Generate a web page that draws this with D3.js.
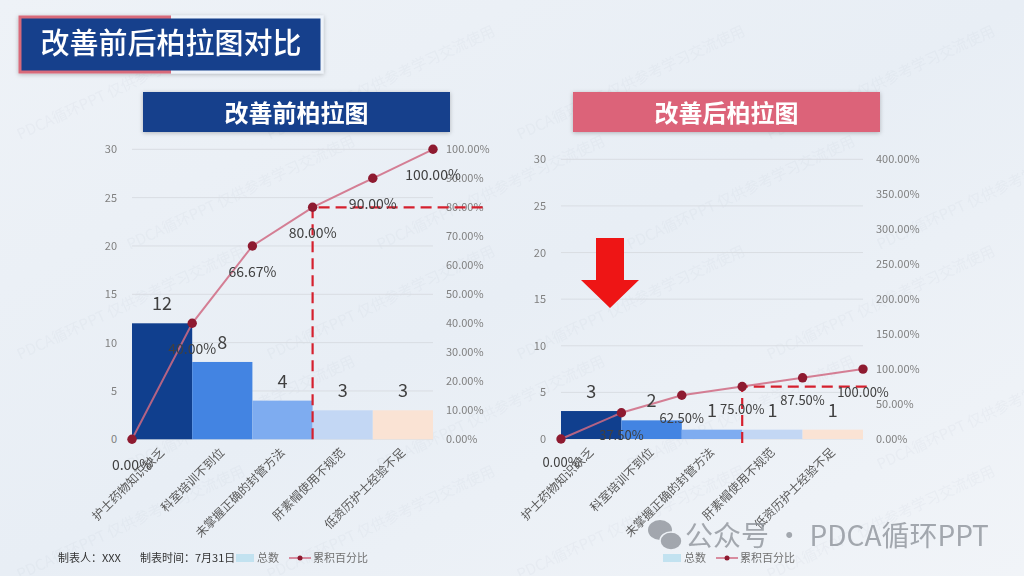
<!DOCTYPE html>
<html>
<head>
<meta charset="utf-8">
<script src="https://cdn.jsdelivr.net/npm/d3@7"></script>
<style>
  html, body { margin: 0; padding: 0; background: #eef2f7; }
  svg { display: block; font-family: "Noto Sans CJK SC", "Noto Sans", sans-serif; }
</style>
</head>
<body>
<div id="chart"></div>
<script>
const categories = ["护士药物知识缺乏", "科室培训不到位", "未掌握正确的封管方法", "肝素帽使用不规范", "低资历护士经验不足"];
const beforeCounts = [12, 8, 4, 3, 3];
const afterCounts = [3, 2, 1, 1, 1];
const beforeCumPct = [0, 40, 66.67, 80, 90, 100];
const afterCumPct = [0, 37.5, 62.5, 75, 87.5, 100];
const countTicks = [0, 5, 10, 15, 20, 25, 30];
const beforePctTicks = [0, 10, 20, 30, 40, 50, 60, 70, 80, 90, 100];
const afterPctTicks = [0, 50, 100, 150, 200, 250, 300, 350, 400];
const beforeCutIndex = 3;
const afterCutIndex = 3;

const barColors = ["#103f8e", "#4384e2", "#7eacf0", "#c3d7f4", "#fae3d4"];

const width = 1024;
const height = 576;

const svg = d3.select("#chart").append("svg")
  .attr("width", width)
  .attr("height", height)
  .attr("viewBox", [0, 0, width, height]);

const defs = svg.append("defs");

const bg = defs.append("linearGradient").attr("id", "bg")
  .attr("x1", "0").attr("y1", "0").attr("x2", "1").attr("y2", "1");
bg.append("stop").attr("offset", "0").attr("stop-color", "#eef2f7");
bg.append("stop").attr("offset", "0.5").attr("stop-color", "#e8eef5");
bg.append("stop").attr("offset", "1").attr("stop-color", "#f1f4f8");

const titleBorder = defs.append("linearGradient").attr("id", "titleBorder")
  .attr("x1", "0").attr("y1", "0").attr("x2", "1").attr("y2", "0");
titleBorder.append("stop").attr("offset", "0").attr("stop-color", "#d86a7a");
titleBorder.append("stop").attr("offset", "0.5").attr("stop-color", "#d86a7a");
titleBorder.append("stop").attr("offset", "0.5").attr("stop-color", "#eef3fa");
titleBorder.append("stop").attr("offset", "1").attr("stop-color", "#eef3fa");

const shadow = defs.append("filter").attr("id", "shadow")
  .attr("x", "-10%").attr("y", "-30%").attr("width", "120%").attr("height", "160%");
shadow.append("feDropShadow")
  .attr("dx", 0).attr("dy", 1).attr("stdDeviation", 2)
  .attr("flood-color", "#000").attr("flood-opacity", 0.25);

svg.append("rect").attr("width", width).attr("height", height).attr("fill", "url(#bg)");

// faint watermark text
const wm = svg.append("g").attr("fill", "#9aa6b8").attr("opacity", 0.07)
  .attr("font-size", 15);
for (let row = 0; row < 5; row++) {
  for (let col = 0; col < 4; col++) {
    const wx = col * 250 + (row % 2) * 110 + 20;
    const wy = row * 110 + 140;
    wm.append("text")
      .attr("transform", `translate(${wx}, ${wy}) rotate(-25)`)
      .text("PDCA循环PPT 仅供参考学习交流使用");
  }
}

// main title
svg.append("rect")
  .attr("x", 20).attr("y", 17).attr("width", 302).attr("height", 55)
  .attr("fill", "#123f8c")
  .attr("stroke", "url(#titleBorder)")
  .attr("stroke-width", 3)
  .attr("filter", "url(#shadow)");
svg.append("text")
  .attr("x", 171).attr("y", 54)
  .attr("text-anchor", "middle")
  .attr("fill", "#ffffff")
  .attr("font-size", 29)
  .attr("font-weight", 500)
  .text("改善前后柏拉图对比");

function drawHeader(x, w, fill, label) {
  svg.append("rect")
    .attr("x", x).attr("y", 92).attr("width", w).attr("height", 40)
    .attr("fill", fill)
    .attr("filter", "url(#shadow)");
  svg.append("text")
    .attr("x", x + w / 2).attr("y", 122)
    .attr("text-anchor", "middle")
    .attr("fill", "#ffffff")
    .attr("font-size", 24)
    .attr("font-weight", "bold")
    .text(label);
}

drawHeader(143, 307, "#123f8c", "改善前柏拉图");
drawHeader(573, 307, "#dc6479", "改善后柏拉图");

function drawPareto(opts) {
  const g = svg.append("g");

  const x = d3.scaleBand()
    .domain(categories)
    .range([opts.x0, opts.x1])
    .padding(0);

  const xEdge = d3.scaleLinear()
    .domain([0, categories.length])
    .range([opts.x0, opts.x1]);

  const y = d3.scaleLinear()
    .domain([0, 30])
    .range([opts.yBase, opts.yTop]);

  const yPct = d3.scaleLinear()
    .domain([0, opts.pctMax])
    .range([opts.yBase, opts.yTop]);

  // gridlines
  g.selectAll("line.grid")
    .data(countTicks)
    .join("line")
    .attr("class", "grid")
    .attr("x1", opts.x0)
    .attr("x2", opts.x1)
    .attr("y1", d => y(d))
    .attr("y2", d => y(d))
    .attr("stroke", "#d9dde3")
    .attr("stroke-width", 1);

  // left axis
  const leftAxis = g.append("g")
    .attr("transform", `translate(${opts.x0 - 15}, 0)`)
    .call(d3.axisLeft(y).tickValues(countTicks).tickSize(0).tickPadding(0));
  leftAxis.select(".domain").remove();
  leftAxis.selectAll("text")
    .attr("fill", "#808080")
    .attr("font-size", 11)
    .attr("font-family", "'Noto Sans CJK SC', sans-serif");

  // right axis
  const rightAxis = g.append("g")
    .attr("transform", `translate(${opts.x1 + 13}, 0)`)
    .call(d3.axisRight(yPct)
      .tickValues(opts.pctTicks)
      .tickSize(0)
      .tickPadding(0)
      .tickFormat(d => d.toFixed(2) + "%"));
  rightAxis.select(".domain").remove();
  rightAxis.selectAll("text")
    .attr("fill", "#808080")
    .attr("font-size", 11)
    .attr("font-family", "'Noto Sans CJK SC', sans-serif");

  // bars
  g.selectAll("rect.bar")
    .data(opts.counts)
    .join("rect")
    .attr("class", "bar")
    .attr("x", (d, i) => x(categories[i]))
    .attr("y", d => y(d))
    .attr("width", x.bandwidth())
    .attr("height", d => opts.yBase - y(d))
    .attr("fill", (d, i) => barColors[i]);

  // cumulative line
  const line = d3.line()
    .x((d, i) => xEdge(i))
    .y(d => yPct(d));

  g.append("path")
    .datum(opts.cumPct)
    .attr("d", line)
    .attr("fill", "none")
    .attr("stroke", "#d06a82")
    .attr("stroke-opacity", 0.85)
    .attr("stroke-width", 2);

  // 80% cut reference lines
  const cx = xEdge(opts.cutIndex);
  const cy = yPct(opts.cumPct[opts.cutIndex]);
  g.append("path")
    .attr("d", `M${cx},${opts.yBase + opts.dashDrop}L${cx},${cy}L${opts.dashEnd},${cy}`)
    .attr("fill", "none")
    .attr("stroke", "#d5202e")
    .attr("stroke-width", 2.2)
    .attr("stroke-dasharray", "11,6");

  // markers
  g.selectAll("circle.pt")
    .data(opts.cumPct)
    .join("circle")
    .attr("class", "pt")
    .attr("cx", (d, i) => xEdge(i))
    .attr("cy", d => yPct(d))
    .attr("r", 4.7)
    .attr("fill", "#8e1a30");

  // bar value labels
  g.selectAll("text.val")
    .data(opts.counts)
    .join("text")
    .attr("class", "val")
    .attr("x", (d, i) => x(categories[i]) + x.bandwidth() / 2)
    .attr("y", d => y(d) - 13)
    .attr("text-anchor", "middle")
    .attr("fill", "#404040")
    .attr("font-size", 18)
    .text(d => d);

  // cumulative labels
  g.selectAll("text.pct")
    .data(opts.cumPct)
    .join("text")
    .attr("class", "pct")
    .attr("x", (d, i) => xEdge(i))
    .attr("y", d => yPct(d) + opts.pctOffset)
    .attr("text-anchor", "middle")
    .attr("fill", "#404040")
    .attr("font-size", opts.pctSize)
    .text(d => d.toFixed(2) + "%");

  // category labels
  g.selectAll("text.cat")
    .data(categories)
    .join("text")
    .attr("class", "cat")
    .attr("transform", d => `translate(${x(d) + x.bandwidth() / 2 + 3}, ${opts.yBase + 14}) rotate(-45)`)
    .attr("text-anchor", "end")
    .attr("fill", "#595959")
    .attr("font-size", 12)
    .text(d => d);
}

drawPareto({
  counts: beforeCounts,
  cumPct: beforeCumPct,
  pctTicks: beforePctTicks,
  pctMax: 100,
  cutIndex: beforeCutIndex,
  x0: 132, x1: 433,
  yBase: 439.3, yTop: 149.3,
  dashEnd: 486, dashDrop: 0,
  pctOffset: 31, pctSize: 14
});

drawPareto({
  counts: afterCounts,
  cumPct: afterCumPct,
  pctTicks: afterPctTicks,
  pctMax: 400,
  cutIndex: afterCutIndex,
  x0: 561, x1: 863,
  yBase: 439, yTop: 159.3,
  dashEnd: 868, dashDrop: 4,
  pctOffset: 27.5, pctSize: 13
});

// red arrow
svg.append("path")
  .attr("d", "M596,238L624,238L624,280L639,280L610,308L581,280L596,280Z")
  .attr("fill", "#ee1515");

// footer
const footer = svg.append("g").attr("font-size", 11).attr("fill", "#333333");
footer.append("text").attr("x", 58).attr("y", 562).text("制表人：XXX");
footer.append("text").attr("x", 140).attr("y", 562).text("制表时间：7月31日");

function drawLegend(x) {
  const lg = svg.append("g").attr("transform", `translate(${x}, 0)`);
  lg.append("rect").attr("x", 0).attr("y", 554).attr("width", 18).attr("height", 8)
    .attr("fill", "#c2e2f0");
  lg.append("text").attr("x", 21).attr("y", 562)
    .attr("font-size", 11).attr("fill", "#707070").text("总数");
  lg.append("line").attr("x1", 53).attr("x2", 75).attr("y1", 558).attr("y2", 558)
    .attr("stroke", "#d06a82").attr("stroke-width", 1.5);
  lg.append("circle").attr("cx", 64).attr("cy", 558).attr("r", 2.5).attr("fill", "#8e1a30");
  lg.append("text").attr("x", 77).attr("y", 562)
    .attr("font-size", 11).attr("fill", "#707070").text("累积百分比");
}

drawLegend(236);
drawLegend(663);

// account watermark
const acct = svg.append("g").attr("fill", "#8f949b").attr("opacity", 0.8);
acct.append("ellipse").attr("cx", 660).attr("cy", 530).attr("rx", 12).attr("ry", 10);
acct.append("ellipse").attr("cx", 671).attr("cy", 541).attr("rx", 11).attr("ry", 9)
  .attr("stroke", "#eef2f7").attr("stroke-width", 1.5);
acct.append("text")
  .attr("x", 685).attr("y", 546)
  .attr("font-size", 28)
  .text("公众号 · PDCA循环PPT");
</script>
</body>
</html>
